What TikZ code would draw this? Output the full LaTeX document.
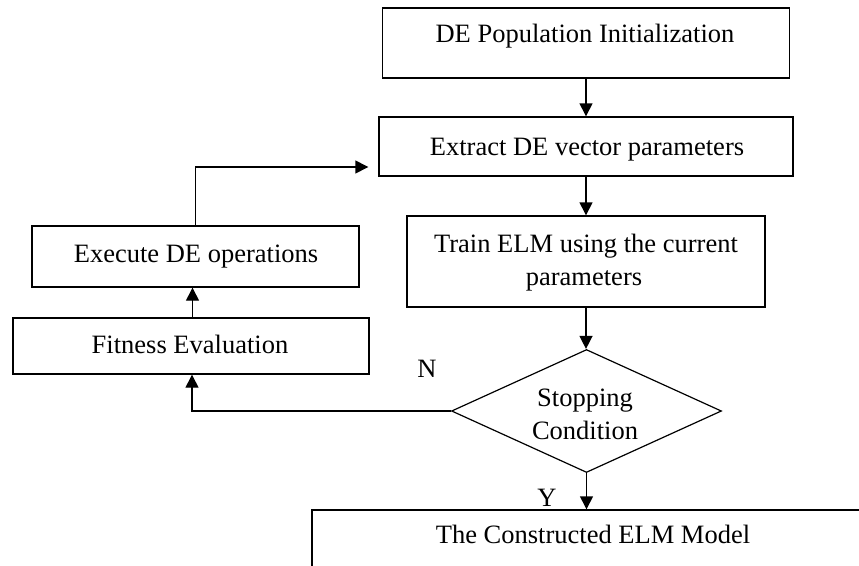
\documentclass[tikz,border=0pt]{standalone}
\usepackage{fontspec}
\setmainfont{Liberation Serif}
\usepackage{xcolor}
\usepackage{tikz}
\usetikzlibrary{positioning,shapes.geometric,arrows.meta}

\tikzset{
  stepbox/.style={draw, line width=1.4pt, inner sep=0pt},
  decision/.style={draw, diamond, line width=1.2pt, inner sep=0pt,
    minimum width=270pt, minimum height=123pt},
  lbl/.style={anchor=base, inner sep=0pt, font=\fontsize{26.5}{33}\selectfont},
  arr/.style={-{Triangle[length=13pt,width=13pt]}, line width=1.4pt}
}

\begin{document}
\begin{tikzpicture}[x=1pt,y=-1pt]
\useasboundingbox (0,0) rectangle (859,565);
\clip (0,0) rectangle (859,565);

% main column
\node[stepbox, minimum width=407pt, minimum height=70pt] (init) at (586,43) {};
\node[lbl] (initT) at (585,42) {DE Population Initialization};

\node[stepbox, minimum width=414pt, minimum height=59pt] (extract) at (586,146.5) {};
\node[lbl] (extractT) at (587,155) {Extract DE vector parameters};

\node[stepbox, minimum width=358pt, minimum height=91pt] (train) at (586,261.5) {};
\node[lbl] (trainT1) at (586,252) {Train ELM using the current};
\node[lbl] (trainT2) at (584,285) {parameters};

\node[decision] (cond) at (586.5,411) {};
\node[lbl] (condT1) at (585,406) {Stopping};
\node[lbl] (condT2) at (585,439) {Condition};

\node[stepbox, minimum width=576pt, minimum height=100pt] (final) at (600,560) {};
\node[lbl] (finalT) at (593,543) {The Constructed ELM Model};

% loop on the left
\node[stepbox, minimum width=327pt, minimum height=61pt] (exec) at (195.5,256.5) {};
\node[lbl] (execT) at (196,262) {Execute DE operations};

\node[stepbox, minimum width=356pt, minimum height=56pt] (fit) at (191,346) {};
\node[lbl] (fitT) at (190,353) {Fitness Evaluation};

\node[lbl] (no) at (427,377) {N};
\node[lbl] (yes) at (547,506) {Y};

% connectors
\draw[arr] (init) -- (extract);
\draw[arr] (extract) -- (train);
\draw[arr] (train.south) -- (train.south |- cond.north);
\draw[arr] (cond.south) -- (cond.south |- final.north);
\draw[arr] (cond.west) -| ([xshift=1pt]fit.south);
\draw[arr] ([xshift=1.5pt]fit.north) -- ([xshift=1.5pt]fit.north |- exec.south);
\draw[arr, shorten >=10pt] (exec.north) |- ([yshift=-20.5pt]extract.west);
\end{tikzpicture}
\end{document}
